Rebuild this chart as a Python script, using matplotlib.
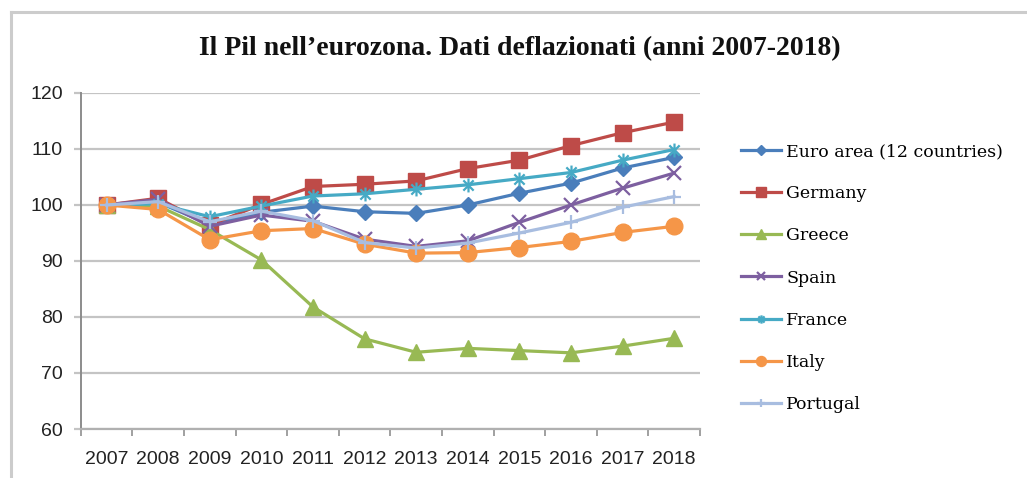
import numpy as np
import matplotlib
matplotlib.use("Agg")
import matplotlib.pyplot as plt
from matplotlib.lines import Line2D
from matplotlib.path import Path

# dati (indice 2007 = 100)
years = ["2007", "2008", "2009", "2010", "2011", "2012",
         "2013", "2014", "2015", "2016", "2017", "2018"]
euro_area = [100, 100.5, 96.5, 98.7, 99.8, 98.8, 98.5, 100.0, 102.1, 103.9, 106.6, 108.5]
germany = [100, 101.2, 96.4, 100.1, 103.3, 103.7, 104.3, 106.5, 108.0, 110.6, 112.9, 114.8]
greece = [100, 99.8, 95.6, 90.2, 81.8, 76.1, 73.7, 74.4, 74.0, 73.6, 74.8, 76.2]
spain = [100, 101.0, 96.2, 98.2, 97.1, 93.9, 92.6, 93.6, 96.9, 100.0, 103.0, 105.7]
france = [100, 100.2, 97.9, 99.8, 101.6, 102.0, 102.8, 103.6, 104.7, 105.8, 108.0, 109.9]
italy = [100, 99.2, 93.8, 95.4, 95.8, 93.0, 91.4, 91.5, 92.4, 93.5, 95.1, 96.2]
portugal = [100, 100.6, 97.0, 98.9, 97.2, 93.3, 92.3, 93.2, 95.0, 96.9, 99.6, 101.5]

labels = ["Euro area (12 countries)", "Germany", "Greece", "Spain",
          "France", "Italy", "Portugal"]

# marker "asterisco" stile Excel (x + linea verticale)
star = Path([(-1, -1), (1, 1), (-1, 1), (1, -1), (0, -1.35), (0, 1.35)],
            [Path.MOVETO, Path.LINETO, Path.MOVETO, Path.LINETO, Path.MOVETO, Path.LINETO])

series = [
    (euro_area, "#4a7ebb", "D", 8.5),
    (germany, "#be4b48", "s", 11.5),
    (greece, "#98b954", "^", 12),
    (spain, "#7d5fa0", "x", 10),
    (france, "#46aac5", star, 10),
    (italy, "#f59648", "o", 12),
    (portugal, "#a8bde0", "+", 10),
]

fig = plt.figure(figsize=(10.27, 4.78), dpi=100)
ax = fig.add_axes([0.0786, 0.1025, 0.603, 0.703])

x = np.arange(len(years))
for (vals, col, mk, ms), lab in zip(series, labels):
    linemk = mk in ("x", "+") or mk is star
    ax.plot(x, vals, color=col, lw=2.3, marker=mk, markersize=ms,
            markerfacecolor="none" if linemk else col,
            markeredgecolor=col, markeredgewidth=1.6 if linemk else 1,
            label=lab, zorder=3)

ax.set_xlim(-0.5, 11.5)
ax.set_ylim(60, 120)
ax.set_yticks(np.arange(60, 121, 10))
ax.set_xticks(x)
ax.set_xticklabels(years)
ax.set_xticks(np.arange(-0.5, 12, 1), minor=True)

ax.grid(axis="y", color="#c4c4c4", lw=1.6, zorder=0)
for s in ["top", "right"]:
    ax.spines[s].set_visible(False)
ax.spines["left"].set_color("#8c8c8c")
ax.spines["left"].set_linewidth(1.4)
ax.spines["bottom"].set_color("#b0b0b0")
ax.spines["bottom"].set_linewidth(1.6)

ax.tick_params(axis="x", which="major", length=0, pad=16)
ax.tick_params(axis="x", which="minor", length=5, width=1.4, color="#a0a0a0")
ax.tick_params(axis="y", length=5, width=1.6, color="#c4c4c4", pad=8)
for t in ax.get_xticklabels() + ax.get_yticklabels():
    t.set_fontfamily("Liberation Sans")
    t.set_fontsize(14)
    t.set_color("#222222")

fig.text(0.506, 1 - 49 / 478, "Il Pil nell\u2019eurozona. Dati deflazionati (anni 2007-2018)",
         ha="center", va="center", fontfamily="Liberation Serif", fontweight="bold",
         fontsize=20, color="#111111")

ax.legend(loc="upper left", bbox_to_anchor=(741 / 1027, 1 - 143 / 478),
          bbox_transform=fig.transFigure, frameon=False, borderaxespad=0,
          borderpad=0, handlelength=2.3, handletextpad=0.3, labelspacing=1.45,
          markerscale=0.6, prop={"family": "DejaVu Serif", "size": 12.5})

# cornice del grafico (bordo sinistro e superiore)
fig.add_artist(Line2D([11 / 1027, 11 / 1027], [0, 1 - 12 / 478],
                      transform=fig.transFigure, color="#cccccc", lw=2.2))
fig.add_artist(Line2D([11 / 1027, 1], [1 - 12 / 478, 1 - 12 / 478],
                      transform=fig.transFigure, color="#cccccc", lw=2.2))

fig.savefig("out.png", dpi=100)
